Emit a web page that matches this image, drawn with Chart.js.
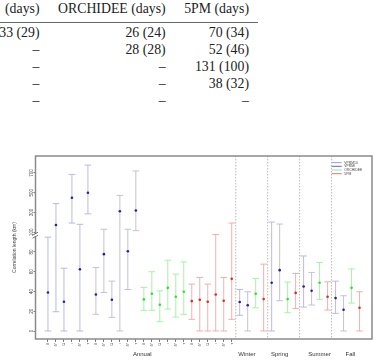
<!DOCTYPE html>
<html>
<head>
<meta charset="utf-8">
<script src="https://cdn.jsdelivr.net/npm/chart.js@4.4.0/dist/chart.umd.min.js"></script>
<style>
    html, body { margin: 0; padding: 0; background: #fff; }
    body { width: 379px; height: 361px; position: relative; overflow: hidden; }
    .cell { position: absolute; font-family: "Liberation Serif", "DejaVu Serif", serif; font-size: 13.8px; line-height: 13.8px; color: #222; white-space: nowrap; }
    .rule { position: absolute; left: 0; top: 22px; width: 258px; height: 1px; background: #666; }
    #chart { position: absolute; left: 0; top: 0; }
</style>
</head>
<body>
<div id="table"></div>
<div class="rule"></div>
<canvas id="chart" width="379" height="361"></canvas>
<script>
// table above the figure
const headers = ['(days)', 'ORCHIDEE (days)', '5PM (days)']
const tableRows = [
    ['33 (29)', '26 (24)', '70 (34)'],
    ['–', '28 (28)', '52 (46)'],
    ['–', '–', '131 (100)'],
    ['–', '–', '38 (32)'],
    ['–', '–', '–']
]

// figure data
const models = ['VPRM10', 'VPRMI', 'ORCHIDEE', '5PM']
const tickLabels = ['δ', 'δ*', 'Ω', 'ι', 'δ*', 'τ', 'δ', 'δ*', 'Ω', 'ι', 'δ*', 'τ',
                    'δ', 'δ*', 'Ω', 'ι', 'δ*', 'τ', 'δ', 'δ*', 'Ω', 'ι', 'δ*', 'τ']
const groupLabels = ['Annual', 'Winter', 'Spring', 'Summer', 'Fall']
const groupAt = [11.8, 24.9, 29, 34, 37.85]
const separators = [23.5, 27.5, 31.5, 35.5]
const yTickValues = [0, 20, 40, 60, 80, 100, 300, 500, 700]

const modelOf = [0, 0, 0, 0, 0, 0, 1, 1, 1, 1, 1, 1, 2, 2, 2, 2, 2, 2, 3, 3, 3, 3, 3, 3,
                 0, 1, 2, 3, 0, 1, 2, 3, 0, 1, 2, 3, 0, 1, 2, 3]
const centre = [39, 173, 29.6, 450, 62.6, 500, 37, 77.8, 31.6, 313, 80.8, 320,
                32, 37.7, 26.6, 43.7, 34.7, 39.7, 30.3, 31.6, 29.6, 37, 30.6, 52.8,
                29.3, 26, 37.7, 32.3, 48.8, 61.6, 32.3, 38.6, 45.1, 40.7, 48.8, 34.7,
                33.3, 21.5, 43.7, 23.5]
const lower = [0, 19.5, 0, 193, 0, 286, 16.9, 39, 13.8, 0, 42, 116,
               20.9, 21, 9.4, 22.2, 14.1, 16.9, 11.8, 0, 0, 0, 0, 11.8,
               15.9, 0, 23.5, 0, 0, 30.6, 18.5, 22.9, 24.2, 26.3, 32, 21.2,
               17.9, 0, 28.3, 0]
const upper = [95, 390, 63.6, 686, 180, 780, 64.3, 130, 50.5, 473, 130, 720,
               44.1, 60, 40.7, 71.7, 57.6, 70, 47.5, 54.2, 47.5, 97.7, 54.2, 193,
               42.1, 39.7, 53.2, 67.7, 203, 183, 49.5, 58.3, 76, 59.3, 69.4, 49.8,
               50.5, 35.7, 62.9, 39.7]

const pointColours = ['#23239a', '#23239a', '#33dd33', '#dd2a2a']
const barColours = ['#b2b2dc', '#bcbcd0', '#9ef09e', '#f2a6a6']
const legendColours = ['#9494dc', '#5656b0', '#7cf07c', '#e06666']

// broken axis: above 100 the scale is squeezed ten times
const squash = v => v <= 100 ? v : 100 + (v - 100) / 10

// table
const table = document.getElementById('table')
const colRight = [39.5, 165.7, 249]
const addCell = (text, col, top) => {
    const d = document.createElement('div')
    d.className = 'cell'
    d.textContent = text
    d.style.right = (379 - colRight[col]) + 'px'
    d.style.top = top + 'px'
    table.appendChild(d)
}
headers.forEach((h, c) => addCell(h, c, 1.7))
tableRows.forEach((row, r) => row.forEach((t, c) => addCell(t, c, 26.1 + r * 17)))

const extras = {
    id: 'extras',
    beforeDatasetsDraw(chart) {
        const { ctx, chartArea: a, scales: { x, y } } = chart
        ctx.save()
        ctx.strokeStyle = '#a8a8a8'
        ctx.lineWidth = 0.8
        ctx.setLineDash([1.5, 1.5])
        separators.forEach(s => {
            const px = x.getPixelForValue(s)
            ctx.beginPath()
            ctx.moveTo(px, a.top)
            ctx.lineTo(px, a.bottom)
            ctx.stroke()
        })
        ctx.setLineDash([])
        ctx.lineWidth = 0.9
        centre.forEach((c, i) => {
            const px = x.getPixelForValue(i)
            const lo = y.getPixelForValue(squash(lower[i]))
            const hi = y.getPixelForValue(squash(upper[i]))
            ctx.strokeStyle = barColours[modelOf[i]]
            ctx.beginPath()
            ctx.moveTo(px, lo)
            ctx.lineTo(px, hi)
            ctx.moveTo(px - 3.3, lo)
            ctx.lineTo(px + 3.3, lo)
            ctx.moveTo(px - 3.3, hi)
            ctx.lineTo(px + 3.3, hi)
            ctx.stroke()
        })
        ctx.restore()
    },
    afterDatasetsDraw(chart) {
        const { ctx, chartArea: a, scales: { x, y } } = chart
        ctx.save()
        // frame
        ctx.strokeStyle = '#8a8a8a'
        ctx.lineWidth = 1.5
        ctx.strokeRect(a.left, a.top, a.right - a.left, a.bottom - a.top)

        // axis break
        const yb = y.getPixelForValue(97)
        ctx.fillStyle = '#fff'
        ctx.fillRect(a.left - 1, yb - 1.5, 3, 3)
        ctx.strokeStyle = '#555'
        ctx.lineWidth = 0.8
        ctx.beginPath()
        ctx.moveTo(a.left - 3, yb)
        ctx.lineTo(a.left + 2.5, yb - 3)
        ctx.moveTo(a.left - 3, yb + 3)
        ctx.lineTo(a.left + 2.5, yb)
        ctx.stroke()

        // group names under the axis
        ctx.fillStyle = '#333'
        ctx.font = '6px "Liberation Sans", Arial, sans-serif'
        ctx.textAlign = 'center'
        ctx.textBaseline = 'middle'
        groupLabels.forEach((g, i) => ctx.fillText(g, x.getPixelForValue(groupAt[i]), 354))

        // legend
        ctx.font = '3.4px "Liberation Sans", Arial, sans-serif'
        ctx.textAlign = 'left'
        ctx.lineWidth = 0.9
        models.forEach((m, i) => {
            const ly = a.top + 6.6 + i * 3.7
            ctx.strokeStyle = legendColours[i]
            ctx.beginPath()
            ctx.moveTo(a.right - 40.3, ly)
            ctx.lineTo(a.right - 30.3, ly)
            ctx.stroke()
            ctx.fillStyle = '#444'
            ctx.fillText(m, a.right - 27.7, ly)
        })
        ctx.restore()
    }
}

const datasets = models.map((m, k) => ({
    label: m,
    data: centre.map((c, i) => ({ x: i, y: squash(c), m: modelOf[i] })).filter(p => p.m === k),
    backgroundColor: pointColours[k],
    borderColor: pointColours[k],
    pointRadius: 1.3,
    pointBorderWidth: 0
}))

new Chart(document.getElementById('chart'), {
    type: 'scatter',
    data: { datasets },
    plugins: [extras],
    options: {
        responsive: false,
        animation: false,
        layout: { padding: { top: 156, right: 7, left: 0, bottom: 0 } },
        plugins: { legend: { display: false }, tooltip: { enabled: false } },
        scales: {
            x: {
                type: 'linear',
                min: -1.56,
                max: 40.56,
                afterBuildTicks: s => { s.ticks = tickLabels.map((_, i) => ({ value: i })) },
                afterFit: s => { s.height = 22 },
                border: { display: false },
                grid: { drawOnChartArea: false, tickLength: 3, tickColor: '#555', tickWidth: 0.8 },
                ticks: {
                    autoSkip: false,
                    minRotation: 90,
                    maxRotation: 90,
                    padding: 1,
                    color: '#555',
                    font: { size: 3.8, family: '"Liberation Sans", Arial, sans-serif' },
                    callback: v => tickLabels[v]
                }
            },
            y: {
                type: 'linear',
                min: -8.1,
                max: 177.2,
                afterBuildTicks: s => { s.ticks = yTickValues.map(v => ({ value: squash(v) })) },
                afterFit: s => { s.width = 35.5 },
                border: { display: false },
                grid: { drawOnChartArea: false, tickLength: 2, tickColor: '#555', tickWidth: 0.8 },
                ticks: {
                    minRotation: 90,
                    maxRotation: 90,
                    crossAlign: 'center',
                    padding: -2,
                    color: '#444',
                    font: { size: 4.6, family: '"Liberation Sans", Arial, sans-serif' },
                    callback: (v, i) => String(yTickValues[i])
                },
                title: {
                    display: true,
                    text: 'Correlation length (km)',
                    color: '#444',
                    font: { size: 5, family: '"Liberation Sans", Arial, sans-serif' },
                    padding: { top: 12, bottom: 0 }
                }
            }
        }
    }
})
</script>
</body>
</html>
